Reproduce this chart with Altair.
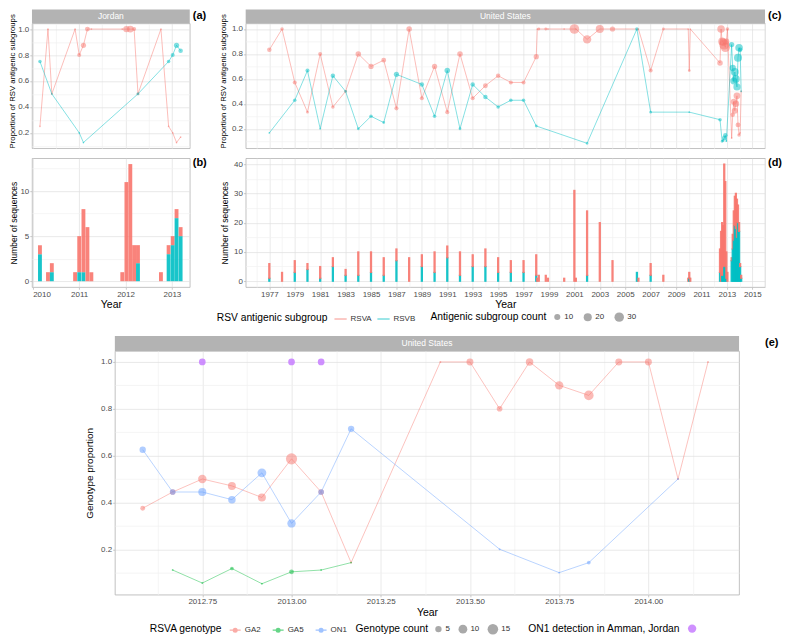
import altair as alt
import pandas as pd

FONT = "Liberation Sans"

# ---------------- data ----------------
# Jordan: monthly bins (bin centre, decimal year) and sequence counts per subgroup
jo_year = [2010.157, 2010.330, 2010.413, 2010.914, 2011.003, 2011.094, 2011.180, 2011.265,
           2011.931, 2012.020, 2012.104, 2012.186, 2012.269, 2012.764, 2012.929, 2013.017,
           2013.100, 2013.188]
jo_rsva = [1, 1, 1, 1, 4, 7, 6, 1, 1, 11, 13, 4, 2, 1, 1, 1, 1, 1]
jo_rsvb = [3, 0, 1, 0, 1, 1, 0, 0, 0, 0, 0, 0, 2, 0, 3, 4, 7, 5]

# United States: bins (centre, decimal year) and sequence counts per subgroup
us_year = [1977, 1978, 1979, 1980, 1981, 1982, 1983, 1984, 1985, 1986, 1987, 1988, 1989,
           1990, 1991, 1992, 1993, 1994, 1995, 1996, 1997,
           1998.00, 1998.08, 1998.20, 1998.75, 1998.92, 2000.20, 2001.00, 2001.12,
           2002.00, 2003.00, 2004.00, 2005.92, 2006.04, 2007.00, 2008.00,
           2009.96, 2010.04, 2010.12,
           2012.458, 2012.542, 2012.625, 2012.708, 2012.792, 2012.875, 2012.958, 2013.042,
           2013.375, 2013.458, 2013.542, 2013.625, 2013.708, 2013.792, 2013.875, 2013.958,
           2014.042, 2014.125]
us_rsva = [5, 3, 4, 2, 4, 3, 2, 8, 7, 6, 4, 8, 4, 7, 4, 8, 4, 6, 5, 4, 4,
           7, 1, 2, 2, 1, 1, 31, 1, 22, 20, 7, 0, 1, 4, 2, 1, 2, 1,
           8, 17, 18, 17, 35, 29, 9, 3,
           1, 5, 10, 10, 12, 13, 6, 3, 1, 1]
us_rsvb = [1, 0, 3, 4, 1, 5, 2, 2, 3, 2, 7, 0, 5, 3, 8, 2, 5, 5, 3, 3, 3,
           2, 0, 0, 0, 0, 0, 0, 0, 2, 0, 0, 3, 0, 2, 0, 0, 1, 0,
           3, 0, 2, 2, 5, 5, 1, 0,
           7, 11, 14, 19, 18, 15, 20, 17, 5, 1]

# United States RSVA genotypes per month
gen_year = [2012.583, 2012.667, 2012.750, 2012.833, 2012.917, 2013.000, 2013.083, 2013.167,
            2013.417, 2013.500, 2013.583, 2013.667, 2013.750, 2013.833, 2013.917, 2014.000,
            2014.083, 2014.167]
ga2_count = [3, 4, 9, 8, 8, 17, 4, 1, 1, 6, 4, 7, 9, 12, 6, 6, 1, 1]
ga5_count = [0, 1, 1, 2, 1, 3, 1, 1, 0, 0, 0, 0, 0, 0, 0, 0, 0, 0]
on1_count = [5, 4, 8, 7, 10, 9, 4, 5, 0, 0, 1, 0, 1, 2, 0, 0, 1, 0]

# ON1 detections in Amman, Jordan
amman_year = [2012.75, 2013.0, 2013.083]
amman_prop = [1.0, 1.0, 1.0]

subgroups = ["RSVA", "RSVB"]
sub_colors = ["#F8766D", "#00BFC4"]
genotypes = ["GA2", "GA5", "ON1"]
gen_colors = ["#F8766D", "#00BA38", "#619CFF"]


# ---------------- tables built from the lists ----------------
def prop_frame(years, a_counts, b_counts):
    rows = []
    for y, a, b in zip(years, a_counts, b_counts):
        n = a + b
        for g, c in (("RSVA", a), ("RSVB", b)):
            if c > 0:
                rows.append({"year": y, "sub": g, "prop": c / n, "count": c})
    return pd.DataFrame(rows)


def bar_frame(years, a_counts, b_counts, half):
    rows = []
    for y, a, b in zip(years, a_counts, b_counts):
        if b > 0:
            rows.append({"x0": y - half, "x1": y + half, "sub": "RSVB", "y0": 0, "y1": b})
        if a > 0:
            rows.append({"x0": y - half, "x1": y + half, "sub": "RSVA", "y0": b, "y1": a + b})
    return pd.DataFrame(rows)


def gen_frame():
    rows = []
    for i, y in enumerate(gen_year):
        cs = {"GA2": ga2_count[i], "GA5": ga5_count[i], "ON1": on1_count[i]}
        n = sum(cs.values())
        for g, c in cs.items():
            if c > 0:
                rows.append({"year": y, "genotype": g, "prop": c / n, "count": c})
    return pd.DataFrame(rows)


jo_pts = prop_frame(jo_year, jo_rsva, jo_rsvb)
jo_bars = bar_frame(jo_year, jo_rsva, jo_rsvb, 1 / 24)
us_pts = prop_frame(us_year, us_rsva, us_rsvb)
us_bars = bar_frame(us_year, us_rsva, us_rsvb, 1 / 24)
gen_pts = gen_frame()
amman_df = pd.DataFrame({"year": amman_year, "prop": amman_prop, "lab": ["ON1"] * len(amman_year)})

# ---------------- styling helpers ----------------
W1, W2, WE = 158, 520, 625
H1, H2, HE = 125, 129, 244

PROP_TEST = "round(datum.value * 10) % 2 === 0"
prop_vals = [0.1, 0.2, 0.3, 0.4, 0.5, 0.6, 0.7, 0.8, 0.9, 1.0]
ab_x_vals = [2010, 2010.5, 2011, 2011.5, 2012, 2012.5, 2013]
cd_x_vals = list(range(1976, 2017))
e_x_vals = [2012.625, 2012.75, 2012.875, 2013.0, 2013.125, 2013.25, 2013.375, 2013.5,
            2013.625, 2013.75, 2013.875, 2014.0, 2014.125]


def grid_axis(values, test, fmt=None, title=None, labels=True, title_size=10.5, title_pad=1,
              **extra):
    kw = dict(
        values=values,
        grid=True,
        gridColor={"condition": {"test": test, "value": "#E0E0E0"}, "value": "#F1F1F1"},
        gridWidth=0.7,
        domain=False,
        tickColor={"condition": {"test": test, "value": "#B3B3B3"}, "value": "rgba(0,0,0,0)"},
        tickSize=2.2,
        tickWidth=0.7,
        labelFont=FONT, labelFontSize=8, labelColor="#4D4D4D", labelPadding=1,
        titleFont=FONT, titleFontSize=title_size, titleFontWeight="normal",
        titleColor="#000000", titlePadding=title_pad,
        title=title,
    )
    if labels:
        kw["labelExpr"] = f"({test}) ? datum.label : ''"
    else:
        kw["labels"] = False
        kw["ticks"] = False
    if fmt:
        kw["format"] = fmt
    kw.update(extra)
    return alt.Axis(**kw)


def legend(title, x, y, **extra):
    kw = dict(title=title, orient="none", legendX=x, legendY=y, direction="horizontal",
              titleOrient="left", titleFont=FONT, titleFontSize=10.3, titleFontWeight="normal",
              titleColor="#000000", labelFont=FONT, labelFontSize=8, labelColor="#333333",
              titlePadding=6, columnPadding=8, labelOffset=3)
    kw.update(extra)
    return alt.Legend(**kw)


def strip(text, w, h=14):
    base = alt.Chart(pd.DataFrame({"t": [text]}))
    rect = base.mark_rect(fill="#B3B3B3").encode(
        x=alt.value(0), x2=alt.value(w), y=alt.value(-h), y2=alt.value(0))
    txt = base.mark_text(color="white", fontSize=8.5, font=FONT).encode(
        x=alt.value(w / 2), y=alt.value(-h / 2), text="t:N")
    return rect + txt


def tag(label, x, y):
    return alt.Chart(pd.DataFrame({"t": [label]})).mark_text(
        fontWeight="bold", fontSize=11, align="left", baseline="middle", font=FONT, color="black"
    ).encode(x=alt.value(x), y=alt.value(y), text="t:N")


sub_scale = alt.Scale(domain=subgroups, range=sub_colors)
gen_scale = alt.Scale(domain=genotypes, range=gen_colors)
size_top = alt.Scale(type="pow", exponent=0.75, domain=[1, 40], range=[3, 113])
size_e = alt.Scale(type="pow", exponent=0.8, domain=[1, 17], range=[3.5, 125])

LEG_SUB = legend("RSV antigenic subgroup", 185, 289, symbolType="stroke", symbolSize=150,
                 symbolStrokeWidth=1.3, columnPadding=2, titlePadding=5)
LEG_CNT = legend("Antigenic subgroup count", 399, 289, values=[10, 20, 30],
                 symbolFillColor="#A9A9A9", symbolStrokeColor="#A9A9A9", symbolStrokeWidth=0,
                 symbolOpacity=1, columnPadding=10)
LEG_GEN = legend("RSVA genotype", 118, 273,
                 symbolType="M-1,0L1,0M0.35,0A0.35,0.35,0,1,1,-0.35,0A0.35,0.35,0,1,1,0.35,0Z",
                 symbolSize=120, symbolStrokeWidth=1.2, symbolOpacity=0.6)
LEG_GCNT = legend("Genotype count", 324, 273, values=[5, 10, 15],
                  symbolFillColor="#A9A9A9", symbolStrokeColor="#A9A9A9", symbolStrokeWidth=0,
                  symbolOpacity=1)
LEG_AMMAN = legend("ON1 detection in Amman, Jordan", 497, 273, labelExpr="''",
                   symbolSize=70, symbolOpacity=0.85)

# ---------------- panel (a): Jordan proportions ----------------
x_ab_top = alt.X("year:Q", scale=alt.Scale(domain=[2009.985, 2013.385], nice=False, zero=False),
                 axis=grid_axis(ab_x_vals, "datum.value % 1 === 0", labels=False))
y_a = alt.Y("prop:Q", scale=alt.Scale(domain=[0.081, 1.044], nice=False, zero=False),
            axis=grid_axis(prop_vals, PROP_TEST, fmt=".1f",
                           title="Proportion of RSV antigenic subgroups", title_size=7.8,
                           titleY=H1 / 2 - 5))
lines_a = alt.Chart(jo_pts).mark_line(strokeWidth=0.8, opacity=0.6, clip=True).encode(
    x=x_ab_top, y=y_a, stroke=alt.Stroke("sub:N", scale=sub_scale, legend=LEG_SUB))
pts_a = alt.Chart(jo_pts).mark_circle(opacity=0.5, clip=True).encode(
    x=x_ab_top, y=y_a, fill=alt.Fill("sub:N", scale=sub_scale, legend=None),
    size=alt.Size("count:Q", scale=size_top, legend=LEG_CNT))
pa = alt.layer(strip("Jordan", W1), lines_a, pts_a, tag("(a)", W1 + 3, -7)).properties(
    width=W1, height=H1)

# ---------------- panel (b): Jordan counts ----------------
x_b = alt.X("x0:Q", scale=alt.Scale(domain=[2009.985, 2013.385], nice=False, zero=False),
            axis=grid_axis(ab_x_vals, "datum.value % 1 === 0", fmt="d", title="Year"))
y_b = alt.Y("y0:Q", scale=alt.Scale(domain=[-0.65, 13.65], nice=False, zero=False),
            axis=grid_axis([0, 2.5, 5, 7.5, 10, 12.5], "datum.value % 5 === 0", fmt="d",
                           title="Number of sequences", title_size=8.5))
bars_b = alt.Chart(jo_bars).mark_rect(opacity=0.9).encode(
    x=x_b, x2="x1:Q", y=y_b, y2="y1:Q",
    fill=alt.Fill("sub:N", scale=sub_scale, legend=None))
pb = alt.layer(bars_b, tag("(b)", W1 + 3, 5)).properties(width=W1, height=H2)

# ---------------- panel (c): United States proportions ----------------
x_cd_top = alt.X("year:Q", scale=alt.Scale(domain=[1975.14, 2016.0], nice=False, zero=False),
                 axis=grid_axis(cd_x_vals, "datum.value % 2 === 1", labels=False))
y_c = alt.Y("prop:Q", scale=alt.Scale(domain=[0.044, 1.045], nice=False, zero=False),
            axis=grid_axis(prop_vals, PROP_TEST, fmt=".1f",
                           title="Proportion of RSV antigenic subgroups", title_size=7.8,
                           title_pad=4, titleY=H1 / 2 - 5))
lines_c = alt.Chart(us_pts).mark_line(strokeWidth=0.8, opacity=0.6, clip=True).encode(
    x=x_cd_top, y=y_c, stroke=alt.Stroke("sub:N", scale=sub_scale, legend=LEG_SUB))
pts_c = alt.Chart(us_pts).mark_circle(opacity=0.5, clip=True).encode(
    x=x_cd_top, y=y_c, fill=alt.Fill("sub:N", scale=sub_scale, legend=None),
    size=alt.Size("count:Q", scale=size_top, legend=LEG_CNT))
pc = alt.layer(strip("United States", W2), lines_c, pts_c, tag("(c)", W2 + 3, -7)).properties(
    width=W2, height=H1)

# ---------------- panel (d): United States counts ----------------
x_d = alt.X("x0:Q", scale=alt.Scale(domain=[1975.14, 2016.0], nice=False, zero=False),
            axis=grid_axis(cd_x_vals, "datum.value % 2 === 1", fmt="d", title="Year"))
y_d = alt.Y("y0:Q", scale=alt.Scale(domain=[-2, 42], nice=False, zero=False),
            axis=grid_axis(list(range(0, 45, 5)), "datum.value % 10 === 0", fmt="d",
                           title="Number of sequences", title_size=8.5, title_pad=4))
bars_d = alt.Chart(us_bars).mark_rect(opacity=0.9, strokeWidth=1.2).encode(
    x=x_d, x2="x1:Q", y=y_d, y2="y1:Q",
    fill=alt.Fill("sub:N", scale=sub_scale, legend=None),
    stroke=alt.Stroke("sub:N", scale=sub_scale, legend=LEG_SUB))
pdd = alt.layer(bars_d, tag("(d)", W2 + 3, 5)).properties(width=W2, height=H2)

# ---------------- panel (e): genotype proportions ----------------
x_e = alt.X("year:Q", scale=alt.Scale(domain=[2012.505, 2014.254], nice=False, zero=False),
            axis=grid_axis(e_x_vals, "round(datum.value * 8) % 2 === 0", fmt=".2f",
                           title="Year", title_pad=2))
y_e = alt.Y("prop:Q", scale=alt.Scale(domain=[0.006, 1.047], nice=False, zero=False),
            axis=grid_axis(prop_vals, PROP_TEST, fmt=".1f", title="Genotype proportion",
                           title_size=10, title_pad=6))
lines_e = alt.Chart(gen_pts).mark_line(strokeWidth=0.8, opacity=0.55, clip=True).encode(
    x=x_e, y=y_e, stroke=alt.Stroke("genotype:N", scale=gen_scale, legend=LEG_GEN))
pts_e = alt.Chart(gen_pts).mark_circle(opacity=0.5, clip=True).encode(
    x=x_e, y=y_e, fill=alt.Fill("genotype:N", scale=gen_scale, legend=None),
    size=alt.Size("count:Q", scale=size_e, legend=LEG_GCNT))
amman = alt.Chart(amman_df).mark_circle(size=45, opacity=0.85, clip=True).encode(
    x=x_e, y=y_e,
    color=alt.Color("lab:N", scale=alt.Scale(domain=["ON1"], range=["#C77CFF"]), legend=LEG_AMMAN))
pe = alt.layer(strip("United States", WE, 15), lines_e, pts_e, amman,
               tag("(e)", WE + 26, -8)).properties(width=WE, height=HE)

spacer = alt.Chart(pd.DataFrame({"v": [0]})).mark_point(opacity=0).encode(
    x=alt.X("v:Q", axis=None), y=alt.Y("v:Q", axis=None)
).properties(width=73, height=HE, view=alt.ViewBackground(strokeOpacity=0))

# ---------------- layout ----------------
row1 = alt.hconcat(pa, pc, spacing=56, bounds="flush")
row2 = alt.hconcat(pb, pdd, spacing=56, bounds="flush")
row12 = alt.concat(row1, row2, columns=1, align="each", spacing=7)
rowE = alt.hconcat(spacer, pe, spacing=10, bounds="flush")

chart = alt.concat(row12, rowE, columns=1, align="each", spacing=11).resolve_scale(
    stroke="independent", fill="independent", size="independent", color="independent"
).properties(padding=0).configure(font=FONT).configure_view(stroke="#B3B3B3", strokeWidth=0.8)

chart.save("out.html", embed_options={"renderer": "svg", "actions": False})
